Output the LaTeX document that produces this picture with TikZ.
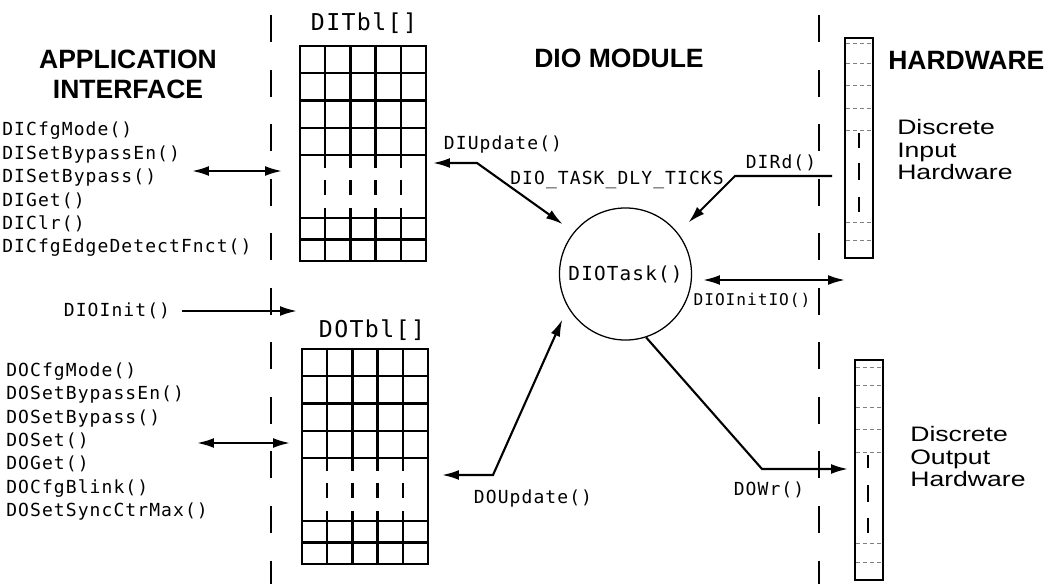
\documentclass[tikz,border=0pt]{standalone}
\usepackage{fontspec}
\setmainfont{Liberation Sans}
\newfontfamily\codefont[LetterSpace=6]{DejaVu Sans Mono}
\newfontfamily\hwfont[FakeStretch=1.27]{Liberation Sans}
\usetikzlibrary{arrows.meta}

\tikzset{
  pics/iotbl/.style={code={
    \foreach \r in {27.25,54.5,81.75,109,172,193.5}
      \draw[tblline] (0,\r) -- (126,\r);
    \foreach \c in {25.2,50.4,75.6,100.8} {
      \draw[tblline] (\c,0) -- (\c,122);
      \draw[tblline] (\c,134) -- (\c,149);
      \draw[tblline] (\c,162) -- (\c,215);
    }
  }}
}

\begin{document}
\begin{tikzpicture}[x=0.025cm, y=-0.025cm,
    >={Latex[length=12pt,width=7pt]},
    code/.style={font=\codefont\fontsize{12.8}{16.65}\selectfont, inner sep=0pt, align=left},
    head/.style={font=\bfseries\fontsize{18.85}{21.3}\selectfont, inner sep=0pt, align=center},
    hwtext/.style={font=\hwfont\fontsize{14.9}{16}\selectfont, inner sep=0pt, align=left},
    tbllabel/.style={font=\codefont\fontsize{16.5}{18}\selectfont, inner sep=0pt},
    tblbox/.style={draw, line width=1.7pt, minimum width=3.15cm, minimum height=5.375cm,
      inner sep=0pt, outer sep=0pt, anchor=north west},
    tblline/.style={line width=1.7pt},
    hwbar/.style={draw, line width=1.8pt, minimum width=0.7cm, minimum height=5.5cm, inner sep=0pt},
    hwline/.style={gray, densely dashed, line width=0.4pt},
    hwmark/.style={line width=1.6pt},
    divider/.style={line width=2pt, dash pattern=on 19.2pt off 19.6pt},
    flow/.style={line width=1.5pt},
    task/.style={draw, circle, line width=0.9pt, minimum size=3.3cm, inner sep=0pt,
      font=\codefont\fontsize{13.75}{15}\selectfont}
]
    \useasboundingbox (0,0) rectangle (1048,584);

    % Dividers
    \draw[divider] (271,15) -- (271,584);
    \draw[divider] (819,15) -- (819,584);

    % Headings
    \node[head] (apphead) at (128,74) {APPLICATION\\INTERFACE};
    \node[head] (diohead) at (619,58) {DIO MODULE};
    \node[head, anchor=west] (hwhead) at (888,60) {HARDWARE};

    % Tables
    \node[tbllabel] (ditbllbl) at (364,23) {DITbl[]};
    \node[tblbox] (ditbl) at (300,46) {};
    \pic at (ditbl.north west) {iotbl};
    \node[tbllabel] (dotbllbl) at (372,330) {DOTbl[]};
    \node[tblbox] (dotbl) at (302,349) {};
    \pic at (dotbl.north west) {iotbl};

    % Task
    \node[task] (task) at (625.5,274) {DIOTask()};

    % Hardware
    \node[hwbar] (hwin) at (859,148) {};
    \node[hwbar] (hwout) at (869,470) {};
    \foreach \y in {43,63,85,108,130,222,240}
      \draw[hwline] (846,\y) -- (872,\y);
    \foreach \a/\b in {133/148,163/180,197/212}
      \draw[hwmark] (859,\a) -- (859,\b);
    \foreach \y in {367,385,407,429,452,543,562}
      \draw[hwline] (856,\y) -- (882,\y);
    \foreach \a/\b in {455/468,485/502,518/533}
      \draw[hwmark] (868,\a) -- (868,\b);
    \node[hwtext, anchor=west] (inhw) at (897,150) {Discrete\\Input\\Hardware};
    \node[hwtext, anchor=west] (outhw) at (910,457) {Discrete\\Output\\Hardware};

    % API calls
    \node[code, anchor=west] (dilist) at (2,189.5)
      {DICfgMode()\\DISetBypassEn()\\DISetBypass()\\DIGet()\\DIClr()\\DICfgEdgeDetectFnct()};
    \node[code, anchor=west] (dolist) at (6,441.5)
      {DOCfgMode()\\DOSetBypassEn()\\DOSetBypass()\\DOSet()\\DOGet()\\DOCfgBlink()\\DOSetSyncCtrMax()};
    \node[code] (dioinit) at (117,311) {DIOInit()};

    % Connector labels
    \node[code] (diupd) at (503,145) {DIUpdate()};
    \node[code] (dlyticks) at (617,180) {DIO\_TASK\_DLY\_TICKS};
    \node[code] (dird) at (781,163) {DIRd()};
    \node[code, font=\codefont\fontsize{11.5}{13}\selectfont] (initio) at (752,300) {DIOInitIO()};
    \node[code] (doupd) at (533,499) {DOUpdate()};
    \node[code] (dowr) at (769,490) {DOWr()};

    % Connector ends
    \coordinate (diapi) at (192,171);
    \coordinate (ditblin) at (282,171);
    \coordinate (doapi) at (197,443);
    \coordinate (dotblin) at (290,443);
    \coordinate (initend) at (297,311);
    \coordinate (ditblout) at (433,163);
    \coordinate (diupdbend) at (477,163);
    \coordinate (dotblout) at (442,475);
    \coordinate (doupdbend) at (493,475);
    \coordinate (hwinout) at (832,176);
    \coordinate (dirdbend) at (735,176);
    \coordinate (taskio) at (703,280);
    \coordinate (hwio) at (845,280);
    \coordinate (dowrbend) at (762,469);
    \coordinate (hwoutin) at (848,469);

    % Connectors
    \draw[flow, <->] (diapi) -- (ditblin);
    \draw[flow, <->] (doapi) -- (dotblin);
    \draw[flow, ->] ([xshift=8.2pt]dioinit.east) -- (initend);
    \draw[flow, <->, shorten >=9.6pt] (ditblout) -- (diupdbend) -- (task.141);
    \draw[flow, ->, shorten >=10.5pt] (hwinout) -- (dirdbend) -- (task.38);
    \draw[flow, <->] (taskio) -- (hwio);
    \draw[flow, <->, shorten >=9.5pt] (dotblout) -- (doupdbend) -- (task.210);
    \draw[flow, ->] (task.288) -- (dowrbend) -- (hwoutin);
\end{tikzpicture}
\end{document}
